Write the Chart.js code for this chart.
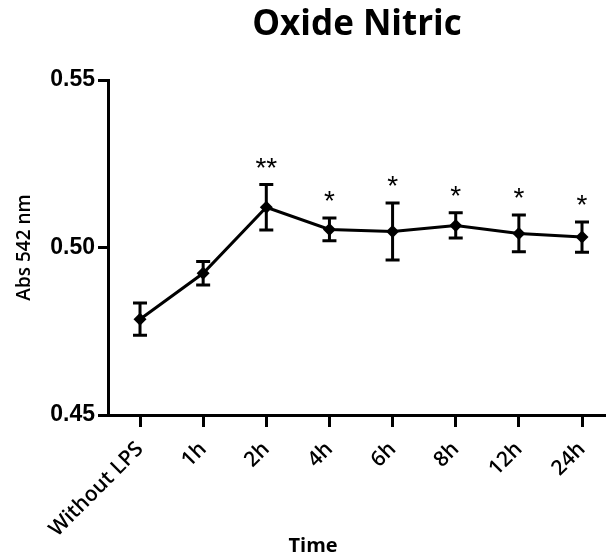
<!DOCTYPE html>
<html>
<head>
<meta charset="utf-8">
<script src="https://cdn.jsdelivr.net/npm/chart.js@4.4.1/dist/chart.umd.min.js"></script>
<style>
  html, body { margin: 0; padding: 0; background: #fff; }
  #wrap { width: 606px; height: 559px; }
</style>
</head>
<body>
<div id="wrap"><canvas id="myCanvas"></canvas></div>
<script>
// values
var labels = ['Without LPS', '1h', '2h', '4h', '6h', '8h', '12h', '24h'];
var means  = [0.4786, 0.4923, 0.5120, 0.5054, 0.5048, 0.5066, 0.5042, 0.5031];
var errs   = [0.0048, 0.0035, 0.0068, 0.0034, 0.0085, 0.0038, 0.0055, 0.0045];
var stars  = ['', '', '**', '*', '*', '*', '*', '*'];
var yTicks = [0.45, 0.50, 0.55];

var points = [];
for (var i = 0; i < means.length; i++) {
    points.push({x: i, y: means[i]});
}

// error bars, significance stars and the x title, placed with the chart scales
var errorBars = {
    id: 'errorBars',
    afterDatasetsDraw: function(chart) {
        var ctx = chart.ctx;
        var xs = chart.scales.x, ys = chart.scales.y;
        ctx.save();
        ctx.strokeStyle = '#000';
        ctx.lineWidth = 3;
        for (var i = 0; i < means.length; i++) {
            var px = xs.getPixelForValue(i);
            var top = ys.getPixelForValue(means[i] + errs[i]);
            var bot = ys.getPixelForValue(means[i] - errs[i]);
            ctx.beginPath();
            ctx.moveTo(px, top); ctx.lineTo(px, bot);
            ctx.moveTo(px - 7, top); ctx.lineTo(px + 7, top);
            ctx.moveTo(px - 7, bot); ctx.lineTo(px + 7, bot);
            ctx.stroke();
            if (stars[i]) {
                ctx.fillStyle = '#000';
                ctx.font = '28px "Liberation Sans", Arial, sans-serif';
                ctx.textAlign = 'center';
                ctx.textBaseline = 'alphabetic';
                ctx.fillText(stars[i], px, top - 8);
            }
        }
        ctx.fillStyle = '#000';
        ctx.font = 'bold 20px "Open Sans"';
        ctx.textAlign = 'center';
        ctx.textBaseline = 'middle';
        ctx.fillText('Time', xs.getPixelForValue(2.74), 546);
        ctx.restore();
    }
};

var ctx = document.getElementById('myCanvas').getContext('2d');
var chart = new Chart(ctx, {
    type: 'line',
    data: {
        datasets: [{
            data: points,
            borderColor: '#000',
            backgroundColor: '#000',
            borderWidth: 3,
            pointStyle: 'rectRot',
            pointRadius: 6.5,
            pointBorderWidth: 0,
            tension: 0
        }]
    },
    options: {
        responsive: true,
        maintainAspectRatio: false,
        animation: false,
        layout: { padding: 0, autoPadding: false },
        plugins: {
            legend: { display: false },
            tooltip: { enabled: false },
            title: {
                display: true,
                text: 'Oxide Nitric',
                fullSize: false,
                color: '#000',
                font: { family: '"Open Sans"', size: 35, weight: 'bold' },
                padding: { top: 4, bottom: 34 }
            }
        },
        scales: {
            x: {
                type: 'linear',
                min: -0.507,
                max: 7.38,
                afterBuildTicks: function(s) {
                    s.ticks = labels.map(function(l, i) { return {value: i}; });
                },
                afterFit: function(s) {
                    s.height = 144;
                    s.paddingLeft = 0;
                    s.paddingRight = 0;
                },
                ticks: {
                    autoSkip: false,
                    maxRotation: 45,
                    minRotation: 45,
                    color: '#000',
                    padding: 10,
                    font: { family: '"Open Sans"', size: 21, weight: '600' },
                    callback: function(v) { return labels[v]; }
                },
                grid: { display: true, drawOnChartArea: false, drawTicks: true, tickLength: 12, lineWidth: 3, color: '#000' },
                border: { display: true, width: 3, color: '#000' }
            },
            y: {
                min: 0.45,
                max: 0.55,
                afterBuildTicks: function(s) {
                    s.ticks = yTicks.map(function(v) { return {value: v}; });
                },
                afterFit: function(s) { s.width = 108; },
                ticks: {
                    color: '#000',
                    padding: 3,
                    font: { family: '"Liberation Sans"', size: 23, weight: 'bold' },
                    callback: function(v) { return v.toFixed(2); }
                },
                grid: { display: true, drawOnChartArea: false, drawTicks: true, tickLength: 10, lineWidth: 3, color: '#000' },
                border: { display: true, width: 3, color: '#000' },
                title: {
                    display: true,
                    text: 'Abs 542 nm',
                    color: '#000',
                    font: { family: '"Open Sans"', size: 19, weight: '600' },
                    padding: { top: 13, bottom: 0 }
                }
            }
        }
    },
    plugins: [errorBars]
});
</script>
</body>
</html>
